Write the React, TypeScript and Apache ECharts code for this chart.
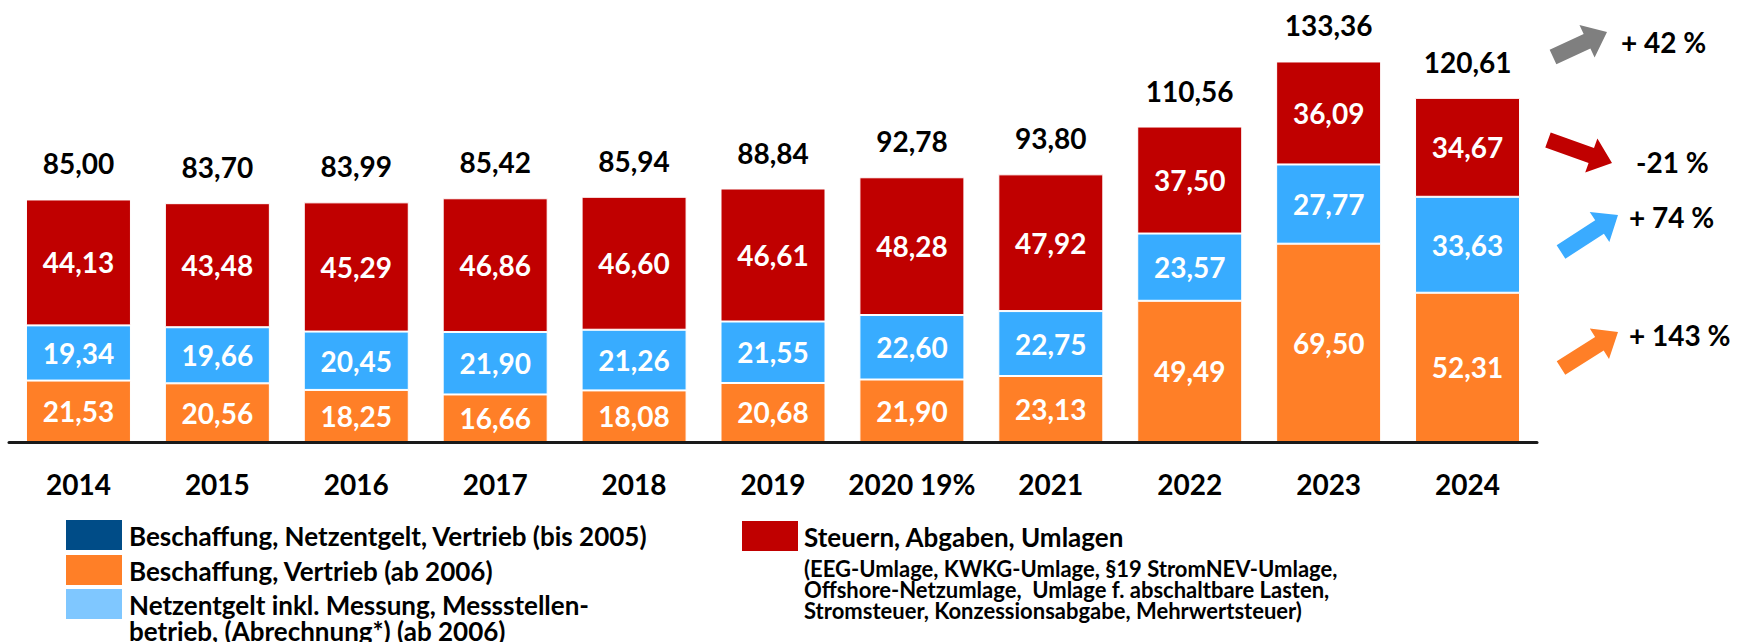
import React, { useEffect, useRef } from "react";
import * as echarts from "echarts";

const years = ["2014", "2015", "2016", "2017", "2018", "2019", "2020 19%", "2021", "2022", "2023", "2024"];
const beschaffung = [21.53, 20.56, 18.25, 16.66, 18.08, 20.68, 21.9, 23.13, 49.49, 69.5, 52.31];
const netzentgelt = [19.34, 19.66, 20.45, 21.9, 21.26, 21.55, 22.6, 22.75, 23.57, 27.77, 33.63];
const steuern = [44.13, 43.48, 45.29, 46.86, 46.6, 46.61, 48.28, 47.92, 37.5, 36.09, 34.67];
const totals = [85.0, 83.7, 83.99, 85.42, 85.94, 88.84, 92.78, 93.8, 110.56, 133.36, 120.61];

const seriesNames = [
  "Beschaffung, Vertrieb (ab 2006)",
  "Netzentgelt inkl. Messung, Messstellenbetrieb, (Abrechnung*) (ab 2006)",
  "Steuern, Abgaben, Umlagen",
];
const legendLeft = [
  { lines: ["Beschaffung, Netzentgelt, Vertrieb (bis 2005)"], color: "#004c87" },
  { lines: ["Beschaffung, Vertrieb (ab 2006)"], color: "#ff7f27" },
  { lines: ["Netzentgelt inkl. Messung, Messstellen-", "betrieb, (Abrechnung*) (ab 2006)"], color: "#7fc7ff" },
];
const legendRight = { label: "Steuern, Abgaben, Umlagen", color: "#c00000" };
const legendRightSub = [
  "(EEG-Umlage, KWKG-Umlage, §19 StromNEV-Umlage,",
  "Offshore-Netzumlage,  Umlage f. abschaltbare Lasten,",
  "Stromsteuer, Konzessionsabgabe, Mehrwertsteuer)",
];

const changes = [
  { text: "+ 42 %", color: "#7f7f7f" },
  { text: "-21 %", color: "#c00000" },
  { text: "+ 74 %", color: "#3aabff" },
  { text: "+ 143 %", color: "#ff7f27" },
];

const FONT = "Lato";
const fmt = (v: number) => v.toFixed(2).replace(".", ",");

function arrowPts(x1: number, y1: number, x2: number, y2: number, shaft: number, headW: number, headL: number) {
  const dx = x2 - x1, dy = y2 - y1;
  const L = Math.hypot(dx, dy);
  const ux = dx / L, uy = dy / L;
  const px = -uy, py = ux;
  const bx = x2 - ux * headL, by = y2 - uy * headL;
  const s = shaft / 2, h = headW / 2;
  return [
    [x1 + px * s, y1 + py * s],
    [bx + px * s, by + py * s],
    [bx + px * h, by + py * h],
    [x2, y2],
    [bx - px * h, by - py * h],
    [bx - px * s, by - py * s],
    [x1 - px * s, y1 - py * s],
  ];
}

function txt(x: number, y: number, text: string, size: number) {
  return {
    type: "text",
    x,
    y,
    style: {
      text,
      fill: "#000",
      fontSize: size,
      fontWeight: "bold",
      fontFamily: FONT,
      verticalAlign: "middle",
      align: "left",
    },
  };
}

export default function App() {
  const ref = useRef<HTMLDivElement>(null);
  useEffect(() => {
    if (!ref.current) return;
    const chart = echarts.init(ref.current, null, { renderer: "svg" });

    const inLabel = {
      show: true,
      position: "inside",
      color: "#fff",
      fontSize: 28,
      fontWeight: "bold",
      fontFamily: FONT,
      formatter: (p: any) => fmt(p.value),
    };

    const barCommon = {
      type: "bar",
      stack: "total",
      barWidth: 105,
      itemStyle: { borderColor: "#fff", borderWidth: 1 },
      label: inLabel,
    };

    const arrowGeo = [
      [1553, 57, 1607, 32],
      [1548, 140, 1612, 163],
      [1561, 252, 1618, 215],
      [1561, 368, 1618, 332],
    ];
    const textPos = [
      [1621, 42],
      [1636, 162],
      [1629, 217],
      [1629, 335],
    ];

    const graphics: any[] = [];
    changes.forEach((c, i) => {
      const g = arrowGeo[i];
      graphics.push({
        type: "polygon",
        shape: { points: arrowPts(g[0], g[1], g[2], g[3], 16, 36, 22) },
        style: { fill: c.color },
        silent: true,
      });
      graphics.push(txt(textPos[i][0], textPos[i][1], c.text, 28));
    });

    const rectY = [520, 555, 589];
    legendLeft.forEach((it, i) => {
      graphics.push({
        type: "rect",
        shape: { x: 66, y: rectY[i], width: 56, height: 30 },
        style: { fill: it.color },
      });
      it.lines.forEach((ln, j) => {
        graphics.push(txt(129, rectY[i] + 16 + j * 26, ln, 26));
      });
    });
    graphics.push({
      type: "rect",
      shape: { x: 742, y: 521, width: 56, height: 30 },
      style: { fill: legendRight.color },
    });
    graphics.push(txt(804, 537, legendRight.label, 26));
    legendRightSub.forEach((ln, j) => {
      graphics.push(txt(804, 568 + j * 21, ln, 22));
    });

    chart.setOption({
      animation: false,
      backgroundColor: "#fff",
      textStyle: { fontFamily: FONT },
      grid: { left: 9, right: 200, top: 14, bottom: 200, containLabel: false },
      xAxis: {
        type: "category",
        data: years,
        z: 5,
        axisLine: { lineStyle: { color: "#1a1a1a", width: 3 } },
        axisTick: { show: false },
        axisLabel: { interval: 0, color: "#000", fontSize: 28, fontWeight: "bold", fontFamily: FONT, margin: 28 },
      },
      yAxis: { type: "value", min: 0, max: 150, show: false },
      series: [
        { ...barCommon, name: seriesNames[0], data: beschaffung, itemStyle: { ...barCommon.itemStyle, color: "#ff7f27" } },
        { ...barCommon, name: seriesNames[1], data: netzentgelt, itemStyle: { ...barCommon.itemStyle, color: "#38acff" } },
        { ...barCommon, name: seriesNames[2], data: steuern, itemStyle: { ...barCommon.itemStyle, color: "#c00000" } },
        {
          type: "bar",
          name: "Summe",
          data: totals,
          barWidth: 105,
          barGap: "-100%",
          silent: true,
          itemStyle: { color: "rgba(0,0,0,0)" },
          label: {
            show: true,
            position: "top",
            distance: 22,
            color: "#000",
            fontSize: 28,
            fontWeight: "bold",
            fontFamily: FONT,
            formatter: (p: any) => fmt(p.value),
          },
        },
      ],
      graphic: graphics,
    });
    return () => chart.dispose();
  }, []);

  return (
    <div
      ref={ref}
      style={{ position: "absolute", left: 0, top: 0, width: 1737, height: 642, background: "#fff" }}
    />
  );
}
